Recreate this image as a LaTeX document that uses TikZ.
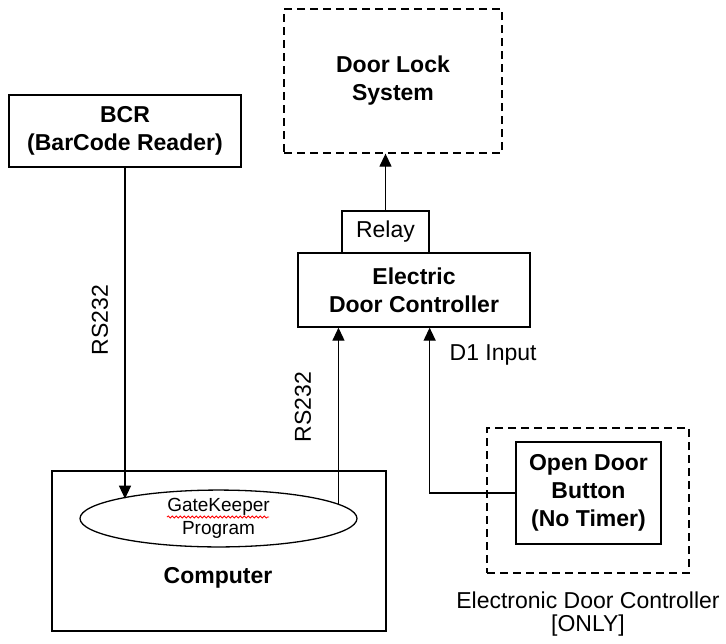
\documentclass[tikz,border=0pt]{standalone}
\usepackage{fontspec}
\setmainfont{Liberation Sans}
\usetikzlibrary{arrows.meta,decorations.pathmorphing,shapes.geometric}
\begin{document}
\begin{tikzpicture}[x=1pt,y=-1pt,
  line width=1.3pt,
  box/.style={draw, line width=1.3pt, inner sep=0pt, align=center,
    font=\fontsize{23}{28}\selectfont\bfseries},
  plainbox/.style={box, font=\fontsize{23}{28}\selectfont},
  dbox/.style={box, dash pattern=on 8pt off 5pt},
  txt/.style={inner sep=0pt, align=center, font=\fontsize{23}{23}\selectfont},
  arr/.style={-{Triangle[length=13pt,width=12pt]}, line width=1.3pt}
]
\useasboundingbox (0,0) rectangle (726,643);

% boxes
\node (lock) [dbox, minimum width=218pt, minimum height=144pt] at (393,81) {Door Lock\\System};
\node (bcr) [box, minimum width=232pt, minimum height=72pt] at (125,131) {BCR\\(BarCode Reader)};
\node (relay) [plainbox, minimum width=87pt, minimum height=42pt] at (385.5,232) {Relay};
\node (edc) [box, minimum width=232pt, minimum height=74pt] at (414,290) {Electric\\Door Controller};
\node (comp) [box, minimum width=334pt, minimum height=160pt] at (219,551) {};
\node (comptext) [txt, font=\fontsize{23}{28}\selectfont\bfseries] at (218,578) {Computer};
\node (gk) [draw, ellipse, line width=1.3pt, inner sep=0pt, minimum width=277pt, minimum height=47pt,
  align=center, font=\fontsize{19}{23}\selectfont] at (218.5,518.5) {GateKeeper\\Program};
\node (btnouter) [dbox, minimum width=202pt, minimum height=145pt] at (588,500.5) {};
\node (btn) [box, minimum width=145pt, minimum height=102pt] at (588.5,493) {Open Door\\Button\\(No Timer)};
\node (edclabel) [txt] at (588,614) {Electronic Door Controller\\{[ONLY]}};

% spell-check squiggle
\draw[red, line width=0.8pt, decorate, decoration={snake, segment length=4pt, amplitude=1.1pt}]
  (167,517) -- (269,517);

% connectors
\draw[arr] (bcr.south) -- (bcr.south |- gk.169);
\coordinate (e1) at (gk.7.6);
\draw[arr] (e1) -- (e1 |- edc.south);
\draw[arr] (relay.north) -- (relay.north |- lock.south);
\draw[arr] (btn.west) -| (relay.south east |- edc.south);

% labels
\node (rs1) [txt, rotate=90] at (100,320) {RS232};
\node (rs2) [txt, rotate=90] at (303,407) {RS232};
\node (d1) [txt, anchor=west] at (449,355) {D1 Input};
\end{tikzpicture}
\end{document}
